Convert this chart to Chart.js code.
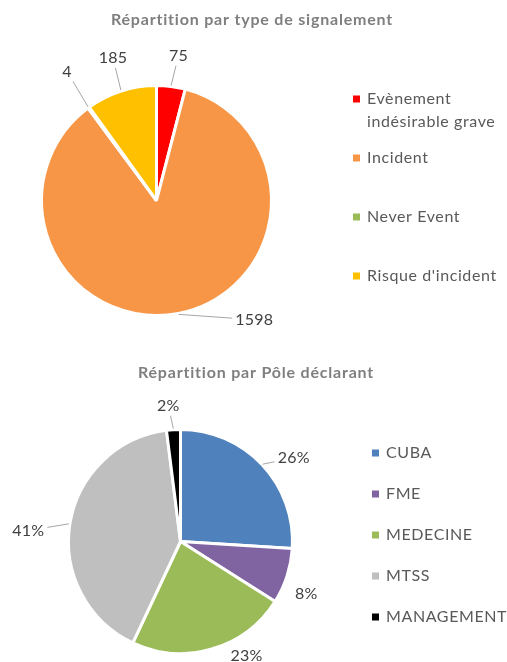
<!DOCTYPE html>
<html lang="fr">
<head>
<meta charset="utf-8">
<title>Répartition des signalements</title>
<script src="https://cdn.jsdelivr.net/npm/chart.js@4"></script>
<style>
  body { margin: 0; background: #fff; }
  .bloc { position: relative; width: 507px; }
  #blocType { height: 330px; }
  #blocPole { height: 332px; }
</style>
</head>
<body>
<div class="bloc" id="blocType"><canvas id="chartType"></canvas></div>
<div class="bloc" id="blocPole"><canvas id="chartPole"></canvas></div>
<script>
// =============================
// Données
// =============================
const typeLabels = ['Evènement indésirable grave', 'Incident', 'Never Event', "Risque d'incident"];
const typeValues = [75, 1598, 4, 185];
const typeColors = ['#FF0000', '#F79646', '#9BBB59', '#FFC000'];

const poleLabels = ['CUBA', 'FME', 'MEDECINE', 'MTSS', 'MANAGEMENT'];
const polePercent = [26, 8, 23, 41, 2];
const poleColors = ['#4F81BD', '#8064A2', '#9BBB59', '#BFBFBF', '#000000'];

Chart.defaults.maintainAspectRatio = false;
Chart.defaults.responsive = true;
Chart.defaults.animation = false;
Chart.defaults.font.family = 'Lato, "Open Sans", sans-serif';

// titre, étiquettes et légende dessinés à la façon Excel
const decor = {
    id: 'decor',
    afterDraw(chart, args, o) {
        const ctx = chart.ctx;
        const meta = chart.getDatasetMeta(0);
        const values = chart.data.datasets[0].data;
        ctx.save();
        ctx.textBaseline = 'middle';

        // titre
        ctx.font = 'bold 16px Lato, sans-serif';
        ctx.letterSpacing = '0.8px';
        ctx.fillStyle = '#7F7F7F';
        ctx.textAlign = 'center';
        ctx.fillText(o.title, o.titleX, o.titleY);

        // étiquettes de données + lignes de rappel
        ctx.font = '16px Lato, sans-serif';
        ctx.letterSpacing = '0.2px';
        meta.data.forEach((arc, i) => {
            const p = arc.getProps(['x', 'y', 'startAngle', 'endAngle', 'outerRadius'], true);
            const mid = (p.startAngle + p.endAngle) / 2;
            const c = Math.cos(mid), s = Math.sin(mid);
            const n = o.nudge[i] || [0, 0];
            const lx = p.x + c * (p.outerRadius + o.dist) + n[0];
            const ly = p.y + s * (p.outerRadius + o.dist) + n[1];
            const txt = o.format(values[i]);
            const w = ctx.measureText(txt).width;
            if (o.leader[i]) {
                const ax = p.x + c * (p.outerRadius + 1);
                const ay = p.y + s * (p.outerRadius + 1);
                const dx = ax - lx, dy = ay - ly;
                const t = Math.min((w / 2 + 3) / Math.abs(dx || 1e-6), 10 / Math.abs(dy || 1e-6));
                ctx.strokeStyle = '#A6A6A6';
                ctx.lineWidth = 1;
                ctx.beginPath();
                ctx.moveTo(ax, ay);
                ctx.lineTo(lx + dx * t, ly + dy * t);
                ctx.stroke();
            }
            ctx.fillStyle = '#404040';
            ctx.textAlign = 'center';
            ctx.fillText(txt, lx, ly);
        });

        // légende
        ctx.textAlign = 'left';
        ctx.letterSpacing = '0.6px';
        chart.data.labels.forEach((lab, i) => {
            const y = o.legendY + i * o.legendStep;
            ctx.fillStyle = chart.data.datasets[0].backgroundColor[i];
            ctx.fillRect(o.legendX, y - 3.5, 7, 7);
            // retour à la ligne si trop long
            const lines = [];
            let cur = '';
            lab.split(' ').forEach(m => {
                const essai = cur ? cur + ' ' + m : m;
                if (cur && ctx.measureText(essai).width > o.legendMax) { lines.push(cur); cur = m; }
                else cur = essai;
            });
            lines.push(cur);
            ctx.fillStyle = '#595959';
            lines.forEach((l, k) => ctx.fillText(l, o.legendX + 14, y + k * 23));
        });
        ctx.restore();
    }
};

// 1️⃣ Répartition par type de signalement
new Chart(document.getElementById('chartType'), {
    type: 'pie',
    data: {
        labels: typeLabels,
        datasets: [{
            data: typeValues,
            backgroundColor: typeColors,
            borderColor: '#fff',
            borderWidth: 3
        }]
    },
    options: {
        layout: { padding: { left: 40, right: 234, top: 84, bottom: 13 } },
        plugins: {
            legend: { display: false },
            tooltip: { enabled: false },
            decor: {
                title: 'Répartition par type de signalement',
                titleX: 252, titleY: 20,
                dist: 35,
                nudge: [[3, 4], [69, -28], [-1, -8], [2.5, 0]],
                leader: [true, true, true, true],
                format: v => String(v),
                legendX: 353, legendY: 99, legendStep: 59, legendMax: 140
            }
        }
    },
    plugins: [decor]
});

// 2️⃣ Répartition par Pôle déclarant
new Chart(document.getElementById('chartPole'), {
    type: 'pie',
    data: {
        labels: poleLabels,
        datasets: [{
            data: polePercent,
            backgroundColor: poleColors,
            borderColor: '#fff',
            borderWidth: 3
        }]
    },
    options: {
        layout: { padding: { left: 67, right: 213, top: 98, bottom: 7 } },
        plugins: {
            legend: { display: false },
            tooltip: { enabled: false },
            decor: {
                title: 'Répartition par Pôle déclarant',
                titleX: 256, titleY: 43,
                dist: 35,
                nudge: [[6, 17], [-14, 7], [25, -27], [-7, 12], [-3, 11]],
                leader: [true, false, false, true, true],
                format: v => v + '%',
                legendX: 372, legendY: 123, legendStep: 41, legendMax: 130
            }
        }
    },
    plugins: [decor]
});
</script>
</body>
</html>
